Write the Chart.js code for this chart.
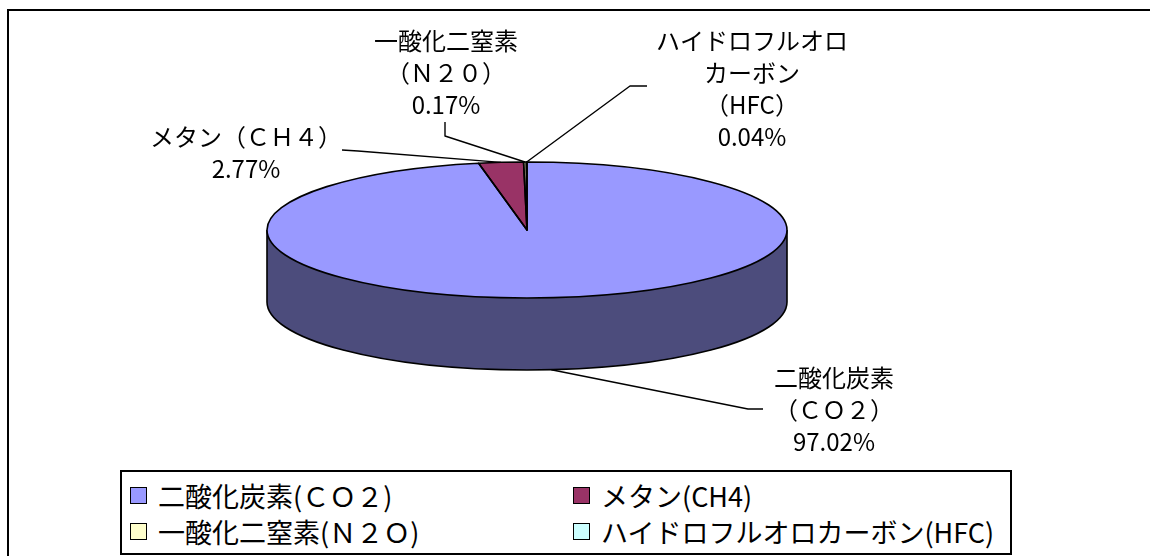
<!DOCTYPE html>
<html lang="ja">
<head>
<meta charset="utf-8">
<script src="https://cdn.jsdelivr.net/npm/chart.js@4.4.1/dist/chart.umd.min.js"></script>
<style>
    body { margin: 0; width: 1150px; height: 556px; overflow: hidden; background: #fff; font-family: "Noto Sans CJK JP", sans-serif; }
    #marco { position: absolute; left: 7px; top: 9px; width: 1200px; height: 600px; border: 2px solid #000; box-sizing: border-box; }
    #grafico { position: absolute; left: 0; top: 0; }
    #leyenda { position: absolute; left: 120px; top: 470px; width: 892px; height: 85px; border: 2px solid #000; box-sizing: border-box; background: #fff; }
    .item { position: absolute; height: 30px; display: flex; align-items: center; font-size: 27px; line-height: 1; color: #000; white-space: nowrap; }
    .caja { width: 15px; height: 15px; border: 1.5px solid #000; margin-right: 11px; flex: none; }
</style>
</head>
<body>
<div id="marco"></div>
<canvas id="grafico" width="1150" height="556"></canvas>
<div id="leyenda"></div>

<script>
// datos
const categorias = ["二酸化炭素（ＣＯ２）", "メタン（ＣＨ４）", "一酸化二窒素（Ｎ２Ｏ）", "ハイドロフルオロカーボン（ＨＦＣ）"];
const valores = [97.02, 2.77, 0.17, 0.04];
const textosLeyenda = ["二酸化炭素(ＣＯ２)", "メタン(CH4)", "一酸化二窒素(Ｎ２Ｏ)", "ハイドロフルオロカーボン(HFC)"];
const etiquetas = [
    ["二酸化炭素", "（ＣＯ２）"],
    ["メタン（ＣＨ４）"],
    ["一酸化二窒素", "（Ｎ２０）"],
    ["ハイドロフルオロ", "カーボン", "（HFC）"]
];

const colores = ["#9999ff", "#993366", "#ffffcc", "#ccffff"];
const coloresLado = ["#4c4c7c", "#4d1a33", "#80805f", "#668080"];

// geometria del pastel 3D
const centroY = 230;
const aplanado = 68 / 260;
const profundidad = 72;

// posicion de etiquetas y codos de las lineas guia
const posEtiquetas = [{ x: 834, y: 378 }, { x: 246, y: 137 }, { x: 446, y: 41 }, { x: 752, y: 41 }];
const codos = [
    [[763, 409], [748, 409]],
    [[342, 150], [358, 151]],
    [[445, 122], [445, 136]],
    [[647, 86], [630, 86]]
];

function tramosFrente(ini, fin) {
    // partes del arco que caen en la mitad delantera (0..PI)
    const res = [];
    [-2 * Math.PI, 0, 2 * Math.PI].forEach(d => {
        const a = Math.max(ini, d), b = Math.min(fin, d + Math.PI);
        if (b > a) res.push([a - d, b - d]);
    });
    return res;
}

const pastel3d = {
    id: "pastel3d",
    beforeDatasetsDraw(chart) {
        const ctx = chart.ctx;
        const arcs = chart.getDatasetMeta(0).data;
        const cx = arcs[0].x, rx = arcs[0].outerRadius, ry = rx * aplanado, cy = centroY;

        // lado
        ctx.save();
        arcs.forEach((arc, i) => {
            tramosFrente(arc.startAngle, arc.endAngle).forEach(([a, b]) => {
                ctx.beginPath();
                ctx.ellipse(cx, cy, rx, ry, 0, a, b);
                ctx.ellipse(cx, cy + profundidad, rx, ry, 0, b, a, true);
                ctx.closePath();
                ctx.fillStyle = coloresLado[i];
                ctx.fill();
            });
        });
        ctx.strokeStyle = "#000";
        ctx.lineWidth = 1.6;
        ctx.beginPath();
        ctx.moveTo(cx + rx, cy);
        ctx.lineTo(cx + rx, cy + profundidad);
        ctx.ellipse(cx, cy + profundidad, rx, ry, 0, 0, Math.PI);
        ctx.lineTo(cx - rx, cy);
        ctx.stroke();
        ctx.restore();

        // cara superior aplastada
        ctx.save();
        ctx.translate(0, cy);
        ctx.scale(1, aplanado);
        ctx.translate(0, -arcs[0].y);
    },
    afterDatasetsDraw(chart) {
        const ctx = chart.ctx;
        ctx.restore();
        const arcs = chart.getDatasetMeta(0).data;
        const cx = arcs[0].x, rx = arcs[0].outerRadius, ry = rx * aplanado, cy = centroY;

        ctx.save();
        ctx.strokeStyle = "#000";
        ctx.lineWidth = 1.6;
        ctx.lineJoin = "round";
        arcs.forEach(arc => {
            ctx.beginPath();
            ctx.moveTo(cx, cy);
            ctx.ellipse(cx, cy, rx, ry, 0, arc.startAngle, arc.endAngle);
            ctx.closePath();
            ctx.stroke();
        });

        // lineas guia y etiquetas
        ctx.lineWidth = 1.4;
        ctx.fillStyle = "#000";
        ctx.font = "24px 'Noto Sans CJK JP'";
        ctx.textAlign = "center";
        ctx.textBaseline = "middle";
        arcs.forEach((arc, i) => {
            const m = (arc.startAngle + arc.endAngle) / 2;
            let px = cx + rx * Math.cos(m);
            let py = cy + ry * Math.sin(m);
            if (Math.sin(m) > 0) py += profundidad;
            ctx.beginPath();
            ctx.moveTo(codos[i][0][0], codos[i][0][1]);
            ctx.lineTo(codos[i][1][0], codos[i][1][1]);
            ctx.lineTo(px, py);
            ctx.stroke();

            const lineas = etiquetas[i].concat([valores[i].toFixed(2) + "%"]);
            lineas.forEach((t, k) => {
                ctx.fillText(t, posEtiquetas[i].x, posEtiquetas[i].y + k * 32);
            });
        });
        ctx.restore();
    }
};

new Chart(document.getElementById("grafico"), {
    type: "pie",
    data: {
        labels: categorias,
        datasets: [{
            data: valores,
            backgroundColor: colores,
            borderWidth: 0,
            clip: false
        }]
    },
    options: {
        responsive: false,
        animation: false,
        events: [],
        layout: { padding: { left: 267, right: 363, top: 18, bottom: 18 } },
        plugins: {
            legend: { display: false },
            tooltip: { enabled: false }
        }
    },
    plugins: [pastel3d]
});

// leyenda
const leyenda = document.getElementById("leyenda");
textosLeyenda.forEach((t, i) => {
    const item = document.createElement("div");
    item.className = "item";
    item.style.left = (i % 2 === 0 ? 8 : 451) + "px";
    item.style.top = (Math.floor(i / 2) === 0 ? 8 : 44) + "px";
    item.innerHTML = `<span class="caja" style="background:${colores[i]}"></span><span>${t}</span>`;
    leyenda.appendChild(item);
});
</script>
</body>
</html>
